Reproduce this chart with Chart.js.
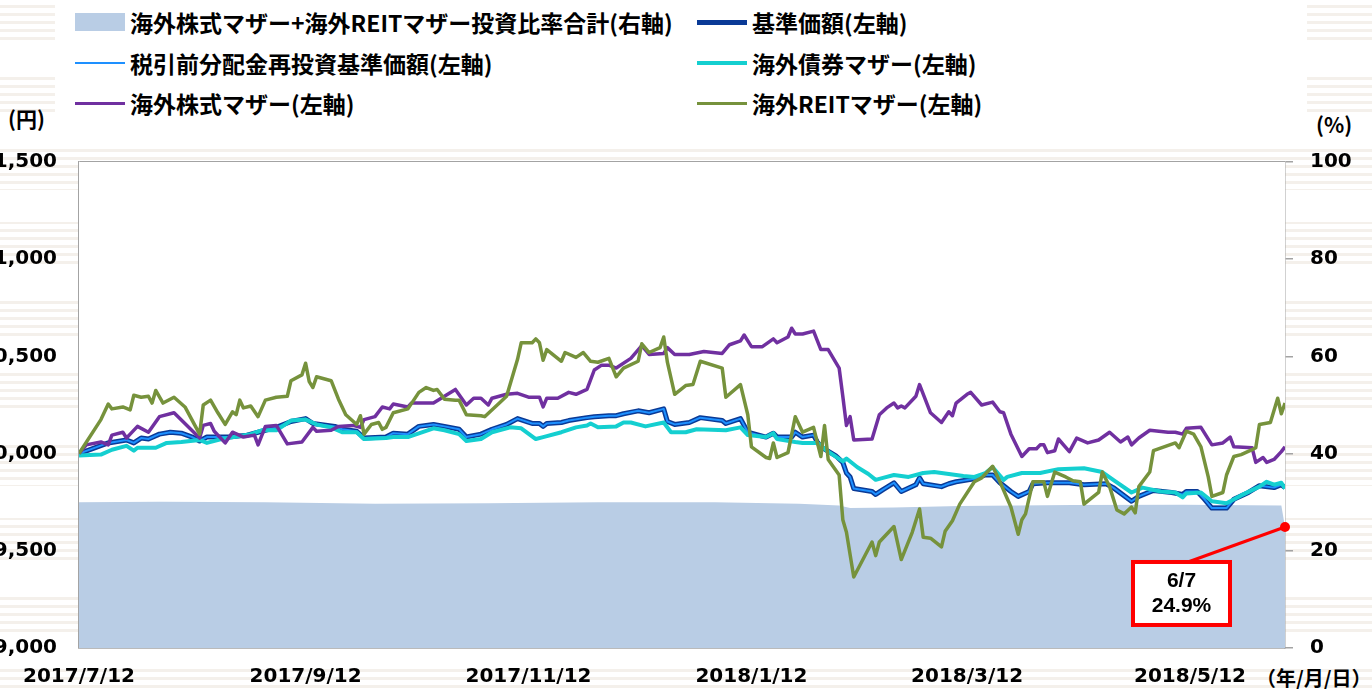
<!DOCTYPE html>
<html lang="ja">
<head>
<meta charset="UTF-8">
<title>基準価額と投資比率の推移</title>
<script src="https://cdn.jsdelivr.net/npm/chart.js"></script>
<style>
    html, body {
        margin: 0;
        padding: 0;
        width: 1372px;
        height: 689px;
        overflow: hidden;
    }
    body {
        position: relative;
        background-color: #fff;
        /* faint staff lines behind the chart */
        background-image:
            repeating-linear-gradient(to bottom, rgba(255,255,255,0) 0 42px, #fff 42px 74px),
            repeating-linear-gradient(to bottom, #fff 0 5px, #f4f0eb 5px 8px);
        font-family: "Noto Sans CJK JP", sans-serif;
    }
    .legend-bg {
        position: absolute;
        left: 55px;
        top: 0;
        width: 1252px;
        height: 126px;
        background: #fff;
    }
    .legend {
        position: absolute;
        left: 75px;
        top: 2px;
        display: grid;
        grid-template-columns: 622px 600px;
        grid-auto-rows: 40.5px;
        align-items: center;
        font-weight: bold;
        font-size: 23px;
        color: #000;
    }
    .legend .item {
        display: flex;
        align-items: center;
        white-space: nowrap;
    }
    .legend .sw {
        display: inline-block;
        width: 50px;
        margin-right: 5px;
    }
    .unit {
        position: absolute;
        font-weight: bold;
        font-size: 21px;
        color: #000;
        white-space: nowrap;
    }
    #wrap {
        position: absolute;
        left: -30px;
        top: 0;
        width: 1402px;
        height: 689px;
    }
</style>
</head>
<body>
    <div class="legend-bg"></div>
    <div class="legend" id="legend"></div>
    <div class="unit" style="left:8px; top:103px;">(円)</div>
    <div class="unit" style="left:1316px; top:109px;">(%)</div>
    <div class="unit" style="left:1256px; top:663px; font-size:20px;">（年/月/日）</div>

    <div id="wrap">
        <canvas id="chart" width="1402" height="689"></canvas>
    </div>

<script>
// ---- data (dates without a year: Jul-Dec = 2017, Jan-Jun = 2018) ----
const tickLabels = ['2017/7/12', '2017/9/12', '2017/11/12', '2018/1/12', '2018/3/12', '2018/5/12'];

// 基準価額 / 税引前分配金再投資基準価額 (identical, no distributions)
const navDates = ['7/12','7/20','7/25','7/27','7/29','7/31','8/3','8/6','8/9','8/12','8/14','8/16','8/22','8/27','8/30',
    '9/4','9/8','9/12','9/14','9/20','9/22','9/26','9/28','10/4','10/6','10/10','10/13','10/17','10/20','10/24','10/26','10/30',
    '11/2','11/6','11/9','11/13','11/15','11/16','11/17','11/21','11/23','11/28','11/30','12/4','12/6','12/8','12/12','12/15',
    '12/19','12/20','12/22','12/26','12/29','1/4','1/5','1/9','1/11','1/16','1/18','1/19','1/23','1/24','1/26','1/29','1/30',
    '1/31','2/4','2/6','2/7','2/8','2/9','2/14','2/15','2/17','2/20','2/22','2/26','2/27','2/28','3/5','3/7','3/9','3/14',
    '3/17','3/19','3/21','3/24','3/26','3/29','3/30','4/3','4/9','4/13','4/19','4/21','4/26','4/28','5/2','5/7','5/10','5/11',
    '5/14','5/16','5/18','5/22','5/24','5/28','5/31','6/4','6/6','6/7'];
const navValues = [10000,10055,10070,10055,10080,10075,10100,10110,10105,10085,10065,10085,10085,10095,10110,
    10135,10165,10180,10155,10140,10125,10115,10080,10085,10105,10100,10140,10150,10140,10125,10085,10100,
    10125,10150,10180,10155,10155,10140,10155,10160,10170,10185,10190,10195,10195,10205,10220,10210,
    10230,10165,10150,10160,10185,10170,10155,10180,10110,10085,10105,10085,10085,10110,10085,10095,10060,
    10035,9990,9955,9900,9880,9820,9805,9790,9815,9850,9805,9840,9875,9845,9830,9845,9855,9870,
    9890,9890,9850,9805,9780,9805,9845,9850,9850,9840,9845,9825,9755,9780,9810,9800,9790,9805,
    9805,9765,9720,9720,9765,9800,9835,9825,9840,9825];

// 海外債券マザー
const bondDates = ['7/12','7/18','7/21','7/25','7/27','7/28','8/2','8/5','8/9','8/14','8/16','8/20','8/28','8/31','9/4',
    '9/8','9/12','9/15','9/19','9/22','9/26','9/28','10/4','10/6','10/10','10/14','10/17','10/20','10/24','10/26','10/30',
    '11/2','11/7','11/10','11/14','11/16','11/21','11/25','11/28','11/29','12/1','12/6','12/8','12/10','12/14','12/19',
    '12/21','12/25','12/28','1/5','1/9','1/11','1/16','1/18','1/19','1/24','1/26','1/30','2/2','2/6','2/7','2/10','2/13',
    '2/15','2/17','2/20','2/24','2/28','3/3','3/11','3/14','3/17','3/19','3/22','3/23','3/27','4/1','4/6','4/13','4/18',
    '4/21','4/26','4/29','5/4','5/8','5/10','5/11','5/15','5/18','5/22','5/26','5/31','6/2','6/4','6/6','6/7'];
const bondValues = [9990,9995,10020,10040,10015,10030,10030,10055,10060,10070,10055,10075,10100,10120,10120,
    10170,10175,10150,10135,10110,10110,10075,10080,10085,10085,10110,10130,10120,10100,10065,10075,
    10110,10135,10130,10075,10085,10110,10135,10145,10155,10135,10140,10160,10160,10140,10160,
    10110,10110,10125,10120,10135,10095,10085,10105,10075,10060,10055,10055,10010,9960,9975,9930,9895,
    9865,9875,9890,9880,9900,9905,9885,9880,9900,9930,9865,9880,9900,9900,9920,9925,9905,
    9865,9800,9825,9805,9800,9775,9795,9800,9755,9745,9785,9830,9855,9840,9850,9820];

// 海外株式マザー
const stockDates = ['7/12','7/14','7/18','7/20','7/21','7/24','7/25','7/26','7/28','7/31','8/3','8/7','8/14','8/15','8/17',
    '8/18','8/21','8/23','8/26','8/29','8/30','9/1','9/4','9/7','9/11','9/14','9/15','9/19','9/21','9/25','9/27','9/28',
    '10/1','10/3','10/5','10/6','10/10','10/11','10/17','10/23','10/26','10/28','10/30','11/1','11/2','11/6','11/9','11/12',
    '11/15','11/16','11/17','11/20','11/23','11/25','11/28','11/30','12/2','12/4','12/6','12/10','12/13','12/15','12/19',
    '12/20','12/22','12/26','12/30','1/4','1/6','1/9','1/10','1/12','1/15','1/18','1/19','1/22','1/23','1/24','1/26','1/29',
    '1/31','2/2','2/5','2/6','2/7','2/8','2/9','2/14','2/16','2/18','2/20','2/21','2/22','2/23','2/26','2/27','3/2','3/5',
    '3/7','3/8','3/9','3/12','3/13','3/16','3/19','3/21','3/22','3/24','3/27','3/29','3/31','4/1','4/2','4/3','4/5','4/6',
    '4/9','4/11','4/14','4/17','4/20','4/23','4/25','4/26','4/28','5/1','5/6','5/8','5/10','5/11','5/15','5/18','5/21',
    '5/23','5/24','5/29','5/30','6/1','6/2','6/4','6/6','6/7'];
const stockValues = [10000,10045,10060,10045,10095,10110,10080,10100,10140,10110,10190,10210,10080,10145,10155,
    10115,10055,10110,10085,10095,10045,10140,10145,10050,10060,10135,10115,10120,10140,10145,10135,10175,
    10190,10240,10230,10255,10240,10260,10260,10330,10250,10285,10285,10250,10285,10305,10310,10290,
    10290,10240,10285,10285,10315,10305,10330,10430,10455,10455,10440,10490,10555,10510,10515,
    10545,10510,10510,10525,10515,10560,10580,10610,10550,10550,10590,10570,10600,10645,10615,10615,10630,
    10535,10535,10440,10295,10145,10190,10070,10075,10200,10235,10260,10235,10245,10235,10295,10355,10210,10160,
    10215,10195,10260,10305,10315,10250,10265,10215,10210,10100,9985,10025,10025,10045,10045,10005,10015,10075,
    10010,10080,10055,10070,10110,10060,10085,10045,10080,10120,10110,10110,10100,10130,10135,10045,10055,
    10085,10035,10030,9955,9980,9955,9970,10010,10035];

// 海外REITマザー
const reitDates = ['7/12','7/18','7/20','7/21','7/24','7/26','7/27','7/29','7/31','8/1','8/2','8/4','8/7','8/10','8/14',
    '8/15','8/17','8/19','8/21','8/23','8/24','8/25','8/26','8/28','8/30','9/1','9/4','9/7','9/8','9/11','9/12','9/13',
    '9/14','9/15','9/19','9/21','9/23','9/26','9/27','9/28','9/30','10/2','10/3','10/4','10/6','10/10','10/13','10/15',
    '10/17','10/18','10/20','10/23','10/24','10/26','10/30','10/31','11/6','11/9','11/10','11/13','11/14','11/15','11/16',
    '11/17','11/21','11/22','11/25','11/27','11/29','12/1','12/4','12/6','12/8','12/12','12/13','12/15','12/18','12/19',
    '12/20','12/22','12/25','12/27','12/29','1/4','1/5','1/9','1/11','1/12','1/16','1/17','1/18','1/19','1/22','1/24',
    '1/26','1/29','1/31','2/1','2/2','2/5','2/6','2/7','2/9','2/14','2/15','2/16','2/20','2/22','2/25','2/27','2/28',
    '3/2','3/5','3/6','3/8','3/10','3/14','3/16','3/19','3/21','3/24','3/26','3/27','3/28','3/30','4/2','4/3','4/5',
    '4/8','4/10','4/12','4/13','4/17','4/18','4/20','4/22','4/24','4/26','4/27','4/28','5/1','5/2','5/8','5/9','5/11',
    '5/13','5/15','5/17','5/18','5/21','5/22','5/24','5/26','5/29','5/30','5/31','6/3','6/5','6/6','6/7'];
const reitValues = [10000,10175,10255,10230,10240,10225,10300,10290,10295,10260,10325,10260,10290,10240,10100,
    10250,10275,10210,10150,10215,10200,10275,10235,10245,10190,10275,10290,10295,10375,10405,10465,10370,
    10340,10395,10375,10280,10200,10150,10195,10100,10150,10160,10125,10135,10210,10230,10315,10340,
    10325,10330,10280,10275,10275,10200,10195,10190,10295,10485,10570,10570,10590,10570,10480,
    10535,10475,10520,10495,10520,10475,10470,10490,10395,10440,10475,10565,10520,10545,10600,
    10470,10305,10350,10355,10475,10440,10290,10355,10200,10035,9980,9975,10055,9980,10005,10190,
    10110,10135,9985,10145,9970,9890,9660,9595,9365,9545,9475,9545,9625,9455,9595,9715,9570,
    9565,9520,9600,9655,9740,9855,9875,9935,9855,9725,9585,9660,9690,9855,9855,9780,9905,
    9880,9860,9855,9740,9800,9905,9830,9710,9690,9725,9695,9830,9905,10015,10055,10030,10115,
    10100,10035,9880,9780,9800,9890,9985,9995,10020,10030,10150,10160,10285,10205,10260];

// 海外株式マザー+海外REITマザー投資比率合計 (%)
const ratioDates = ['7/12','8/3','9/1','10/1','11/1','12/1','1/2','1/25','2/5','2/8','2/20','3/10','4/10','5/10','6/6','6/7'];
const ratioValues = [30.0, 30.1, 30.0, 29.7, 29.8, 30.0, 30.0, 29.7, 29.3, 28.8, 28.9, 29.2, 29.4, 29.5, 29.3, 24.9];

// ---- helpers ----
const DAY = 86400000;
function toTime(s) {
    const p = s.split('/').map(Number);
    if (p.length === 3) return Date.UTC(p[0], p[1] - 1, p[2]);
    const year = p[0] >= 7 ? 2017 : 2018;
    return Date.UTC(year, p[0] - 1, p[1]);
}
const startTime = toTime(tickLabels[0]);
function dayOf(s) { return Math.round((toTime(s) - startTime) / DAY); }
function points(dates, values) {
    return dates.map((d, i) => ({ x: dayOf(d), y: values[i] }));
}

const GRID = '#a3a3a3';
const tickFont = { family: 'DejaVu Sans', size: 20, weight: 'bold' };

// white plot background
const plotBg = {
    id: 'plotBg',
    beforeDatasetsDraw(chart) {
        const a = chart.chartArea, ctx = chart.ctx;
        ctx.save();
        ctx.fillStyle = '#fff';
        ctx.fillRect(a.left, a.top, a.right - a.left, a.bottom - a.top);
        ctx.restore();
    }
};

// red callout on the latest ratio value
const callout = {
    id: 'callout',
    afterDatasetsDraw(chart) {
        const meta = chart.getDatasetMeta(0);
        const pt = meta.data[meta.data.length - 1];
        const ctx = chart.ctx;
        const bx = pt.x - 152, by = pt.y + 35, bw = 97, bh = 63;
        ctx.save();
        ctx.strokeStyle = '#ff0000';
        ctx.lineWidth = 3;
        ctx.beginPath();
        ctx.moveTo(pt.x, pt.y);
        ctx.lineTo(bx + 55, by);
        ctx.stroke();
        ctx.fillStyle = '#ff0000';
        ctx.beginPath();
        ctx.arc(pt.x, pt.y, 5, 0, Math.PI * 2);
        ctx.fill();
        ctx.fillStyle = '#fff';
        ctx.fillRect(bx, by, bw, bh);
        ctx.lineWidth = 4;
        ctx.strokeRect(bx, by, bw, bh);
        const last = ratioDates[ratioDates.length - 1];
        const val = ratioValues[ratioValues.length - 1];
        ctx.fillStyle = '#000';
        ctx.font = 'bold 21px "Liberation Sans Narrow", "Liberation Sans", sans-serif';
        ctx.textAlign = 'center';
        ctx.textBaseline = 'middle';
        ctx.fillText(last, bx + bw / 2, by + 19);
        ctx.fillText(val.toFixed(1) + '%', bx + bw / 2, by + 44);
        ctx.restore();
    }
};

const ctx = document.getElementById('chart').getContext('2d');
const chart = new Chart(ctx, {
    type: 'line',
    data: {
        datasets: [
            {
                label: '海外株式マザー+海外REITマザー投資比率合計(右軸)',
                data: points(ratioDates, ratioValues),
                yAxisID: 'y1',
                fill: 'origin',
                backgroundColor: '#b9cde5',
                borderWidth: 0,
                order: 6
            },
            {
                label: '基準価額(左軸)',
                data: points(navDates, navValues),
                borderColor: '#0a3a96',
                borderWidth: 5,
                order: 5
            },
            {
                label: '税引前分配金再投資基準価額(左軸)',
                data: points(navDates, navValues),
                borderColor: '#1e90ff',
                borderWidth: 2,
                order: 4
            },
            {
                label: '海外債券マザー(左軸)',
                data: points(bondDates, bondValues),
                borderColor: '#14cfd0',
                borderWidth: 4,
                order: 3
            },
            {
                label: '海外株式マザー(左軸)',
                data: points(stockDates, stockValues),
                borderColor: '#7030a0',
                borderWidth: 3.5,
                order: 2
            },
            {
                label: '海外REITマザー(左軸)',
                data: points(reitDates, reitValues),
                borderColor: '#76923c',
                borderWidth: 3.5,
                order: 1
            }
        ]
    },
    options: {
        responsive: false,
        animation: false,
        devicePixelRatio: 1,
        events: [],
        layout: { padding: { top: 162, left: 0, right: 0, bottom: 0 } },
        elements: {
            point: { radius: 0 },
            line: { tension: 0, borderJoinStyle: 'round', fill: false }
        },
        plugins: {
            legend: { display: false },
            tooltip: { enabled: false }
        },
        scales: {
            x: {
                type: 'linear',
                min: 0,
                max: dayOf('6/7'),
                afterBuildTicks: (scale) => {
                    scale.ticks = tickLabels.map(t => ({ value: dayOf(t) }));
                },
                afterFit: (scale) => { scale.height = 41; },
                ticks: {
                    autoSkip: false,
                    maxRotation: 0,
                    padding: 17,
                    color: '#000',
                    font: tickFont,
                    callback: (v, i) => tickLabels[i]
                },
                grid: { display: true, drawOnChartArea: false, drawTicks: false, color: GRID },
                border: { display: true, color: GRID, width: 1.5 }
            },
            y: {
                position: 'left',
                min: 9000,
                max: 11500,
                afterFit: (scale) => { scale.width = 109; },
                ticks: {
                    stepSize: 500,
                    padding: 22,
                    color: '#000',
                    font: tickFont,
                    callback: (v) => v.toLocaleString('en-US')
                },
                grid: { color: GRID, lineWidth: 1.5, drawTicks: false },
                border: { color: GRID, width: 1.5 }
            },
            y1: {
                position: 'right',
                min: 0,
                max: 100,
                afterFit: (scale) => { scale.width = 87; },
                ticks: {
                    stepSize: 20,
                    padding: 17,
                    color: '#000',
                    font: tickFont
                },
                grid: { drawOnChartArea: false, drawTicks: true, tickLength: 8, color: GRID, lineWidth: 1.5 },
                border: { color: GRID, width: 1.5 }
            }
        }
    },
    plugins: [plotBg, callout]
});

// legend in two columns, built from the datasets
const legendEl = document.getElementById('legend');
chart.data.datasets.forEach((ds, i) => {
    const item = document.createElement('div');
    item.className = 'item';
    const sw = document.createElement('span');
    sw.className = 'sw';
    if (i === 0) {
        sw.style.height = '18px';
        sw.style.background = ds.backgroundColor;
    } else {
        sw.style.height = Math.max(2.5, Math.min(ds.borderWidth, 4.5)) + 'px';
        sw.style.background = ds.borderColor;
    }
    const txt = document.createElement('span');
    txt.textContent = ds.label;
    item.appendChild(sw);
    item.appendChild(txt);
    legendEl.appendChild(item);
});
</script>
</body>
</html>
